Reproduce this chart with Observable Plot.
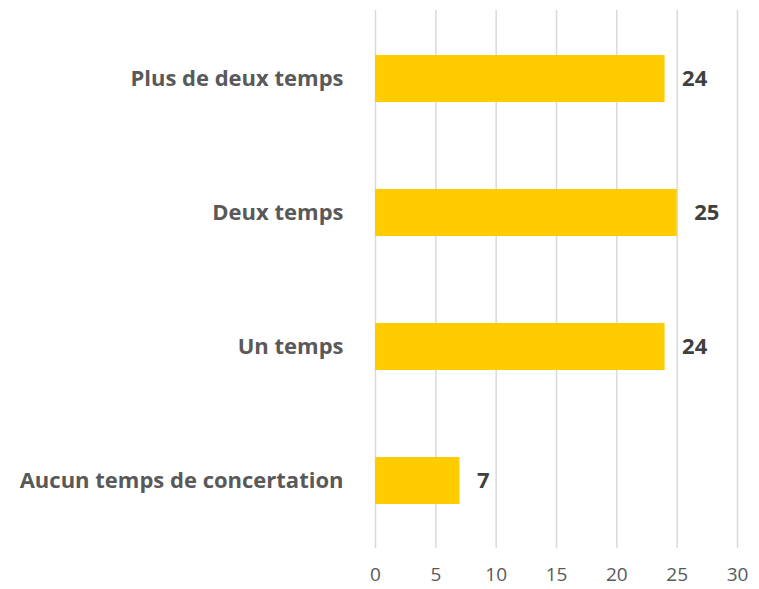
<!DOCTYPE html>
<html><head><meta charset="utf-8">
<script src="https://cdn.jsdelivr.net/npm/d3@7"></script>
<script src="https://cdn.jsdelivr.net/npm/@observablehq/plot@0.6"></script>
<style>body{margin:0;background:#fff}</style>
</head><body><div id="chart"></div>
<script>
const categories = ["Plus de deux temps", "Deux temps", "Un temps", "Aucun temps de concertation"];
const values = [24, 25, 24, 7];
const xTicks = [0, 5, 10, 15, 20, 25, 30];
const data = categories.map((c, i) => ({category: c, value: values[i]}));

const chart = Plot.plot({
  width: 759,
  height: 589,
  marginLeft: 375,
  marginRight: 22,
  marginTop: 10,
  marginBottom: 41,
  style: {fontFamily: "'Open Sans', sans-serif", background: "#fff"},
  x: {domain: [0, 30], ticks: xTicks, label: null},
  y: {domain: categories, paddingInner: 0.65, paddingOuter: 0.325, label: null},
  marks: [
    Plot.ruleX(xTicks, {stroke: "#d9d9d9", strokeWidth: 1.5}),
    Plot.barX(data, {x: "value", y: "category", fill: "#FFCC00"}),
    Plot.axisX({ticks: xTicks, tickSize: 0, tickPadding: 19, fontSize: 19, color: "#595959", label: null}),
    Plot.axisY({tickSize: 0, tickPadding: 32, fontSize: 22, fontWeight: "bold", color: "#595959", label: null}),
    Plot.text(data, {x: "value", y: "category", text: d => String(d.value), dx: 17, textAnchor: "start", fontSize: 22, fontWeight: "bold", fill: "#404040"})
  ]
});
document.getElementById("chart").append(chart);
</script>
</body></html>
